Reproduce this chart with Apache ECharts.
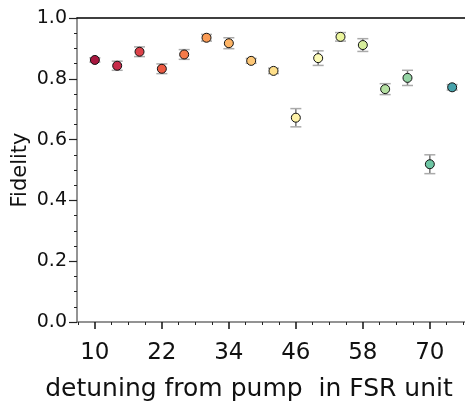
<!DOCTYPE html>
<html>
<head>
<meta charset="utf-8">
<script src="https://cdn.jsdelivr.net/npm/echarts@6/dist/echarts.min.js"></script>
<style>
  html, body { margin: 0; padding: 0; background: #fff; }
  #chart { width: 465px; height: 402px; }
</style>
</head>
<body>
<div id="chart"></div>
<script>
// detuning (FSR units) vs fidelity, with error bars
var detuning = [10, 14, 18, 22, 26, 30, 34, 38, 42, 46, 50, 54, 58, 62, 66, 70, 74];
var fidelity = [0.862, 0.843, 0.889, 0.833, 0.880, 0.935, 0.917, 0.859, 0.826, 0.672, 0.868, 0.938, 0.911, 0.766, 0.803, 0.519, 0.772];
var fidelityErr = [0.007, 0.015, 0.016, 0.016, 0.016, 0.011, 0.018, 0.008, 0.009, 0.030, 0.024, 0.014, 0.021, 0.018, 0.025, 0.031, 0.009];
var xTicks = [10, 22, 34, 46, 58, 70];
var xMinorTicks = [7, 13, 16, 19, 25, 28, 31, 37, 40, 43, 49, 52, 55, 61, 64, 67, 73, 76];

// spectral-ish colours, one per point
var pointColors = ['#a8173f', '#c72a49', '#dc4149', '#ec5a42', '#f57a48', '#fa9b55', '#fdb466', '#fdc777',
  '#fedf8a', '#fff3a8', '#fbfab5', '#ebf59c', '#d7ee9c', '#b5e1a2', '#94d4a4', '#6ec6a4', '#46a2ab'];

var myChart = echarts.init(document.getElementById('chart'));

var pts = detuning.map(function (x, i) {
    return { value: [x, fidelity[i]], itemStyle: { color: pointColors[i] } };
});
var bars = detuning.map(function (x, i) {
    return [x, fidelity[i] - fidelityErr[i], fidelity[i] + fidelityErr[i]];
});

var font = 'DejaVu Sans';
var option = {
    animation: false,
    grid: { left: 77, top: 18, right: 0, bottom: 80, outerBoundsMode: 'none', containLabel: false },
    xAxis: [{
        type: 'value',
        min: 6.8,
        max: 76.3,
        position: 'bottom',
        name: 'detuning from pump  in FSR unit',
        nameLocation: 'middle',
        nameGap: 55,
        nameTextStyle: { fontFamily: font, fontSize: 25, color: '#111', padding: [0, 44, 0, 0] },
        axisLine: { onZero: false, lineStyle: { color: '#707070', width: 1.5 } },
        axisTick: { show: true, length: 7, customValues: xTicks, lineStyle: { color: '#111', width: 1.5 } },
        axisLabel: { customValues: xTicks, fontFamily: font, fontSize: 23, color: '#111', margin: 20 },
        splitLine: { show: false }
    }, {
        type: 'value',
        min: 6.8,
        max: 76.3,
        position: 'bottom',
        axisLine: { show: false, onZero: false },
        axisTick: { show: true, length: 3, customValues: xMinorTicks, lineStyle: { color: '#222' } },
        axisLabel: { show: false },
        splitLine: { show: false }
    }, {
        type: 'value',
        min: 6.8,
        max: 76.3,
        position: 'top',
        axisLine: { onZero: false, lineStyle: { color: '#000', width: 1.5 } },
        axisTick: { show: false },
        axisLabel: { show: false },
        splitLine: { show: false }
    }],
    yAxis: {
        type: 'value',
        min: 0,
        max: 1,
        interval: 0.2,
        name: 'Fidelity',
        nameLocation: 'middle',
        nameGap: 46,
        nameMoveOverlap: false,
        nameTextStyle: { fontFamily: font, fontSize: 21, color: '#111' },
        axisLine: { show: true, lineStyle: { color: '#707070', width: 1.5 } },
        axisTick: { show: true, length: 8, lineStyle: { color: '#222', width: 1.2 } },
        minorTick: { show: true, splitNumber: 4, length: 3, lineStyle: { color: '#222' } },
        axisLabel: {
            fontFamily: font, fontSize: 19, color: '#111', margin: 10,
            formatter: function (v) { return v.toFixed(1); }
        },
        splitLine: { show: false }
    },
    series: [{
        type: 'custom',
        xAxisIndex: 0,
        z: 1,
        data: bars,
        renderItem: function (params, api) {
            var top = api.coord([api.value(0), api.value(2)]);
            var bot = api.coord([api.value(0), api.value(1)]);
            var hw = 5.5;
            return {
                type: 'group',
                children: [
                    { type: 'line', shape: { x1: top[0], y1: top[1], x2: bot[0], y2: bot[1] },
                      style: { stroke: '#777', lineWidth: 1.5 } },
                    { type: 'line', shape: { x1: top[0] - hw, y1: top[1], x2: top[0] + hw, y2: top[1] },
                      style: { stroke: '#aaa', lineWidth: 1.5 } },
                    { type: 'line', shape: { x1: bot[0] - hw, y1: bot[1], x2: bot[0] + hw, y2: bot[1] },
                      style: { stroke: '#aaa', lineWidth: 1.5 } }
                ]
            };
        }
    }, {
        type: 'scatter',
        xAxisIndex: 0,
        z: 3,
        symbolSize: 9,
        itemStyle: { borderColor: '#111', borderWidth: 1, opacity: 1 },
        data: pts
    }]
};
myChart.setOption(option);
</script>
</body>
</html>
